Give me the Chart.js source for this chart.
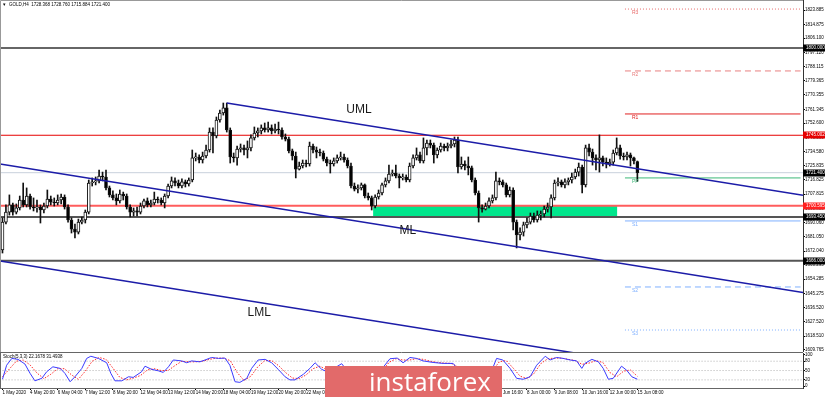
<!DOCTYPE html>
<html>
<head>
<meta charset="utf-8">
<title>GOLD H4</title>
<script src="https://cdn.jsdelivr.net/npm/chart.js@4.4.1/dist/chart.umd.min.js"></script>
<style>
  body { margin: 0; background: #fff; }
  #wrap { position: relative; width: 825px; height: 397px; overflow: hidden; }
  #main-canvas { position: absolute; left: 0; top: 0; }
  #stoch-canvas { position: absolute; left: 0; top: 352px; }
  #logo {
    position: absolute; left: 325px; top: 366px; width: 133px; height: 31px;
    padding-left: 44px; background: #e26a6a; color: #fff;
    font: 26px "Open Sans", "Liberation Sans", sans-serif; line-height: 30px;
  }
</style>
</head>
<body>
<div id="wrap">
  <canvas id="main-canvas" width="825" height="352"></canvas>
  <canvas id="stoch-canvas" width="825" height="45"></canvas>
  <div id="logo">instaforex</div>
</div>
<script>
// H4 candles, 1 May 2020 .. 15 Jun 2020 08:00
const opens = [1672.7,1690.3,1696.6,1701.1,1696.6,1699.2,1704.2,1701.1,1706.7,1699.8,1699.2,1699.8,1697.9,1700.4,1704.8,1702.9,1702.3,1704.2,1706.1,1699.8,
  1691.6,1685.9,1684.0,1690.3,1691.6,1696.6,1714.9,1715.6,1716.2,1719.3,1718.7,1711.8,1707.4,1705.5,1703.6,1708.0,1706.7,1699.8,1696.6,1697.3,
  1696.6,1700.4,1703.6,1701.1,1702.3,1704.8,1704.2,1702.3,1706.7,1713.0,1716.2,1714.9,1713.0,1715.6,1714.3,1716.8,1730.7,1731.3,1729.4,1731.9,
  1735.7,1747.0,1744.5,1754.6,1759.0,1762.2,1748.3,1731.3,1730.7,1736.3,1737.0,1735.7,1737.0,1743.3,1746.4,1747.7,1749.6,1748.3,1749.6,1747.7,
  1748.9,1748.3,1743.9,1742.6,1735.1,1731.9,1723.7,1725.6,1727.5,1726.9,1738.2,1735.7,1734.4,1733.8,1730.0,1727.5,1726.9,1728.8,1730.7,1731.3,
  1729.4,1725.6,1713.0,1711.1,1711.8,1713.7,1706.7,1705.5,1700.4,1706.1,1708.6,1713.7,1716.2,1720.6,1721.2,1719.3,1718.1,1718.7,1716.8,1725.6,
  1730.7,1732.6,1728.8,1737.0,1740.1,1738.8,1732.6,1735.7,1738.2,1737.0,1738.2,1739.5,1742.0,1725.0,1726.9,1725.6,1724.4,1716.8,1708.6,1699.2,
  1698.5,1700.4,1703.6,1705.5,1716.2,1715.6,1713.7,1707.4,1710.5,1690.3,1682.2,1684.0,1688.5,1690.3,1694.1,1691.6,1694.7,1695.4,1698.5,1699.8,
  1705.5,1714.9,1715.6,1713.7,1715.6,1716.8,1718.7,1721.8,1725.0,1713.7,1737.0,1734.4,1730.7,1729.4,1730.7,1728.1,1726.9,1728.1,1733.8,1737.0,
  1731.9,1731.3,1732.6,1730.7,1728.368];
const highs = [1692.9,1701.1,1707.4,1702.3,1701.7,1706.7,1714.9,1711.8,1708.0,1705.5,1704.2,1701.1,1702.3,1710.5,1706.7,1705.5,1707.4,1708.0,1707.4,1701.1,
  1692.9,1689.1,1692.2,1693.5,1697.9,1716.8,1718.1,1718.7,1723.1,1721.8,1723.1,1713.0,1709.9,1708.0,1710.5,1709.2,1708.0,1701.1,1699.2,1699.8,
  1702.3,1704.8,1705.5,1704.2,1709.2,1706.1,1705.5,1708.0,1714.3,1718.7,1718.1,1716.8,1717.5,1716.8,1718.1,1735.7,1733.8,1732.6,1734.4,1738.8,
  1749.6,1749.6,1756.5,1760.9,1765.3,1765.3,1749.6,1733.8,1738.2,1739.5,1738.8,1741.4,1745.2,1750.2,1749.6,1751.5,1752.7,1753.3,1751.5,1752.1,
  1753.3,1749.6,1745.8,1743.9,1736.3,1734.4,1728.1,1729.4,1729.4,1740.7,1739.5,1737.6,1736.3,1735.1,1731.3,1729.4,1730.7,1732.6,1734.4,1733.2,
  1730.7,1727.5,1714.9,1713.7,1714.9,1714.3,1708.6,1706.7,1707.4,1710.5,1714.9,1718.1,1726.2,1723.1,1726.2,1720.6,1720.6,1720.0,1727.5,1732.6,
  1737.0,1734.4,1743.3,1742.0,1742.0,1740.1,1737.0,1740.1,1739.5,1740.1,1742.0,1743.9,1743.9,1731.3,1728.8,1731.3,1725.6,1718.1,1709.9,1701.1,
  1702.3,1705.5,1707.4,1721.8,1718.1,1716.8,1714.9,1712.4,1711.8,1691.6,1686.6,1690.3,1692.9,1696.0,1696.0,1697.3,1697.3,1700.4,1702.3,1707.4,
  1716.8,1718.1,1716.8,1717.5,1718.1,1721.2,1723.7,1727.5,1726.2,1738.8,1739.5,1736.3,1732.6,1745.2,1731.9,1730.7,1730.0,1735.7,1743.3,1738.8,
  1733.8,1734.4,1733.8,1731.3,1728.760];
const lows = [1670.8,1689.1,1694.7,1694.7,1695.4,1697.9,1699.8,1699.8,1698.5,1697.3,1696.6,1689.7,1696.0,1699.2,1701.1,1700.4,1701.1,1701.7,1698.5,1690.3,
  1683.4,1680.3,1682.8,1689.1,1689.7,1695.4,1713.0,1713.7,1714.9,1716.2,1710.5,1706.1,1704.2,1701.1,1702.3,1704.2,1698.5,1693.5,1694.1,1694.1,
  1695.4,1699.2,1699.8,1699.8,1701.1,1702.3,1701.1,1699.2,1705.5,1711.8,1713.0,1711.8,1711.8,1712.4,1713.0,1715.6,1728.8,1727.5,1727.5,1730.7,
  1734.4,1733.8,1743.3,1753.3,1757.7,1747.0,1727.5,1728.1,1726.2,1734.4,1732.6,1730.7,1735.1,1742.0,1743.9,1745.8,1747.0,1747.0,1745.8,1746.4,
  1745.8,1742.6,1741.4,1733.8,1729.4,1718.1,1723.1,1724.4,1725.0,1725.6,1733.8,1730.7,1731.9,1728.8,1725.6,1721.2,1725.6,1727.5,1729.4,1728.1,
  1724.4,1711.8,1709.9,1708.6,1710.5,1705.5,1704.2,1697.9,1699.2,1704.8,1707.4,1712.4,1714.9,1719.3,1718.1,1711.8,1716.8,1715.6,1715.6,1724.4,
  1729.4,1727.5,1727.5,1732.6,1737.0,1727.5,1730.7,1734.4,1735.1,1735.1,1737.0,1737.6,1721.2,1723.7,1723.1,1720.0,1715.6,1707.4,1690.3,1696.6,
  1697.9,1699.2,1702.3,1704.2,1713.7,1712.4,1706.1,1706.1,1685.3,1674.0,1679.0,1681.5,1686.6,1689.1,1690.3,1690.3,1691.6,1693.5,1696.6,1692.9,
  1704.2,1713.0,1712.4,1711.8,1713.7,1714.9,1717.5,1719.3,1708.6,1712.4,1731.9,1726.2,1723.1,1721.8,1725.6,1724.4,1725.6,1726.2,1732.6,1730.0,
  1729.4,1729.4,1725.6,1726.9,1715.884];
const closes = [1690.3,1696.6,1701.1,1696.6,1699.2,1704.2,1701.1,1706.7,1699.8,1699.2,1699.8,1697.9,1700.4,1704.8,1702.9,1702.3,1704.2,1706.1,1699.8,1691.6,
  1685.9,1684.0,1690.3,1691.6,1696.6,1714.9,1715.6,1716.2,1719.3,1718.7,1711.8,1707.4,1705.5,1703.6,1708.0,1706.7,1699.8,1696.6,1697.3,1696.6,
  1700.4,1703.6,1701.1,1702.3,1704.8,1704.2,1702.3,1706.7,1713.0,1716.2,1714.9,1713.0,1715.6,1714.3,1716.8,1730.7,1731.3,1729.4,1731.9,1735.7,
  1747.0,1744.5,1754.6,1759.0,1762.2,1748.3,1731.3,1730.7,1736.3,1737.0,1735.7,1737.0,1743.3,1746.4,1747.7,1749.6,1748.3,1749.6,1747.7,1748.9,
  1748.3,1743.9,1742.6,1735.1,1731.9,1723.7,1725.6,1727.5,1726.9,1738.2,1735.7,1734.4,1733.8,1730.0,1727.5,1726.9,1728.8,1730.7,1731.3,1729.4,
  1725.6,1713.0,1711.1,1711.8,1713.7,1706.7,1705.5,1700.4,1706.1,1708.6,1713.7,1716.2,1720.6,1721.2,1719.3,1718.1,1718.7,1716.8,1725.6,1730.7,
  1732.6,1728.8,1737.0,1740.1,1738.8,1732.6,1735.7,1738.2,1737.0,1738.2,1739.5,1742.0,1725.0,1726.9,1725.6,1724.4,1716.8,1708.6,1699.2,1698.5,
  1700.4,1703.6,1705.5,1716.2,1715.6,1713.7,1707.4,1710.5,1690.3,1682.2,1684.0,1688.5,1690.3,1694.1,1691.6,1694.7,1695.4,1698.5,1699.8,1705.5,
  1714.9,1715.6,1713.7,1715.6,1716.8,1718.7,1721.8,1725.0,1713.7,1737.0,1734.4,1730.7,1729.4,1730.7,1728.1,1726.9,1728.1,1733.8,1737.0,1731.9,
  1731.3,1732.6,1730.7,1728.8,1721.400];

// one time label every 8 bars
const timeLabels = ["1 May 2020","4 May 20:00","6 May 04:00","7 May 12:00","8 May 20:00","12 May 04:00","13 May 12:00","14 May 20:00",
  "18 May 04:00","19 May 12:00","20 May 20:00","22 May 04:00","25 May 16:00","27 May 00:00","28 May 08:00","29 May 16:00",
  "2 Jun 00:00","3 Jun 08:00","4 Jun 16:00","8 Jun 00:00","9 Jun 08:00","10 Jun 16:00","12 Jun 00:00","15 Jun 08:00"];
const barsPerLabel = 8;

const priceTicks = [1823.885,1814.875,1806.100,1797.120,1788.115,1779.365,1770.355,1761.345,1752.600,1743.590,1734.580,1725.835,
  1716.825,1707.815,1698.805,1690.060,1681.050,1672.040,1663.295,1654.285,1645.275,1636.520,1627.520,1618.510,1609.765];
const stochTicks = [0, 20, 50, 80, 100];

// full width levels and their axis boxes
const levelPrices = [1800.000, 1745.002, 1721.400, 1700.595, 1693.450, 1666.000];
const pivotNames = ["R3", "R2", "R1", "PP", "S1", "S2", "S3"];
const pivotPrices = [1824.5, 1785.5, 1758.4, 1718.1, 1691.0, 1649.4, 1622.3];
const pivotFrom = 180.4, pivotTo = 231.3;

// channel: [bar index, price] end points
const umlLine = [[65, 1765.3], [232, 1707.2]];
const mlLine = [[-0.7, 1726.9], [232, 1645.9]];
const lmlLine = [[-0.7, 1665.8], [232, 1584.8]];

// demand zone
const zoneFrom = 107.4, zoneTo = 178.2, zoneTop = 1700.595, zoneBottom = 1693.450;

// stochastic (5,3,3)
const stochIdx = [0,1.2,2.7,4.5,6.5,8,9.4,11.4,12.8,14.6,16.7,18.1,19.6,21,23,24.4,25.6,27.8,30.2,31.4,32.6,34.6,36.5,37.9,40.3,41.3,43.2,45.2,
  46.6,48.1,49.5,51.9,53.4,54.8,57.2,58.7,60.6,62.6,64.5,65.9,67.4,68.8,70.8,72.2,74.1,76.1,78,79.9,81.9,83.3,84.8,87.2,89.1,90.6,92.5,94.3,
  98.3,101.3,104.2,107.1,110.3,112.3,114.4,116.1,118.1,120,121.9,124.8,127.7,130.6,132.6,135.5,138.4,140.7,143.2,145,147.1,149,150.9,152.9,
  154.8,157.3,158.7,160.6,162.5,164.5,166.4,167.9,168.8,170.8,172.7,174.1,175.6,177,179.4,180.9,182.4,184];
const stochMain = [22,67,89,86,71,41,17,25,46,62,57,41,14,30,57,89,96,89,75,41,17,17,30,28,46,64,54,49,
  44,62,84,81,75,81,78,84,92,89,90,67,14,12,25,57,84,86,75,54,30,20,20,38,57,75,54,45,
  72,30,15,8,60,88,90,75,92,89,81,76,73,73,45,25,8,20,89,84,57,25,22,30,
  67,96,84,92,89,84,81,57,73,86,78,57,22,25,64,51,30,22.1678];
const signalIdx = [0,2,4,6,8,10,12,14,16,18,20,22,24,26,28,30,32,34,36,38,40,42,44,46,48,50,52,54,56,58,60,62,64,66,68,70,72,74,76,78,80,
  82,84,86,88,90,92,94,96,98,100,102,104,106,108,110,112,114,116,118,120,122,124,126,128,130,132,134,136,138,140,142,144,146,148,150,
  152,154,156,158,160,162,164,166,168,170,172,174,176,178,180,182,184];
const stochSignal = [30,55,80,84,68,42,24,38,56,56,36,22,48,80,92,86,58,28,20,26,34,52,56,50,50,66,80,78,78,80,86,90,90,82,44,18,32,62,82,82,66,
  44,26,24,36,56,64,52,50,62,52,28,16,10,22,48,76,88,84,84,88,86,80,76,74,73,62,40,22,14,14,50,78,82,58,32,
  24,40,72,88,90,90,86,82,70,74,82,76,44,30,48,52,31.4938];
const stochLevels = [20, 50, 80];

const xMin = -0.72, xMax = 232;
const fontFamily = "'Liberation Sans', Arial, sans-serif";
const axisFont = { family: fontFamily, size: 4.5 };
const last = closes.length - 1;

// keep the plot area flush with the canvas edges
const noLabelPadding = (s) => { s.paddingTop = 0; s.paddingBottom = 0; s.paddingLeft = 0; s.paddingRight = 0; };

const hline = (price, from, to, color, width, dash) => ({
  type: "line",
  data: [{ x: from, y: price }, { x: to, y: price }],
  borderColor: color, borderWidth: width, borderDash: dash || [],
  pointRadius: 0, order: 5,
});
const seg = (pts, color, width) => ({
  type: "line",
  data: pts.map(p => ({ x: p[0], y: p[1] })),
  borderColor: color, borderWidth: width, pointRadius: 0, order: 0,
});

const levelStyle = [["#333", 1.5], ["#e60000", 1.2], ["#c8d0dc", 1], ["#ff5c5c", 2], ["#555", 2], ["#555", 2]];
const boxColor = ["#000", "#e60000", "#000", "#ff2020", "#000", "#000"];
const pivotStyle = [["#e86a6a", [1, 2]], ["#e88080", [6, 4]], ["#e02020", []], ["#3cb878", []],
                    ["#7fb0ff", []], ["#7fb0ff", [6, 4]], ["#7fb0ff", [1, 2]]];

const datasets = [
  seg(umlLine, "#1c1ca8", 1.5),
  seg(mlLine, "#1c1ca8", 1.5),
  seg(lmlLine, "#1c1ca8", 1.5),
  {
    type: "bar",
    data: opens.map((o, i) => ({ x: i, y: [o, closes[i]] })),
    backgroundColor: opens.map((o, i) => (closes[i] >= o ? "#fff" : "#000")),
    borderColor: "#111", borderWidth: 1, borderSkipped: false,
    barThickness: 3, minBarLength: 1, grouped: false, order: 1,
  },
  {
    type: "bar",
    data: lows.map((l, i) => ({ x: i, y: [l, highs[i]] })),
    backgroundColor: "#111", borderWidth: 0,
    barThickness: 1, grouped: false, order: 2,
  },
];
levelPrices.forEach((p, k) => datasets.push(hline(p, xMin - 1, xMax + 1, levelStyle[k][0], levelStyle[k][1])));
pivotPrices.forEach((p, k) => datasets.push(hline(p, pivotFrom, pivotTo, pivotStyle[k][0], 1, pivotStyle[k][1])));
datasets.push({
  type: "line",
  data: [{ x: zoneFrom, y: zoneTop }, { x: zoneTo, y: zoneTop }],
  borderWidth: 0, pointRadius: 0, fill: "+1", backgroundColor: "#00e68c", order: 8,
});
datasets.push({
  type: "line",
  data: [{ x: zoneFrom, y: zoneBottom }, { x: zoneTo, y: zoneBottom }],
  borderWidth: 0, pointRadius: 0, order: 9,
});

const mainOverlay = {
  id: "mainOverlay",
  afterDatasetsDraw(chart) {
    const { ctx, scales: { x, y } } = chart;
    ctx.save();
    ctx.font = `12px ${fontFamily}`;
    ctx.fillStyle = "#1a1a1a";
    ctx.textAlign = "center";
    ctx.textBaseline = "middle";
    ctx.fillText("UML", x.getPixelForValue(103.3), y.getPixelForValue(1760.9));
    ctx.fillText("ML", x.getPixelForValue(117.5), y.getPixelForValue(1684.7));
    ctx.fillText("LML", x.getPixelForValue(74.4), y.getPixelForValue(1633.0));
    ctx.font = `5px ${fontFamily}`;
    ctx.textAlign = "left";
    pivotNames.forEach((n, k) => {
      ctx.fillStyle = pivotStyle[k][0];
      ctx.fillText(n, x.getPixelForValue(pivotFrom) + 7, y.getPixelForValue(pivotPrices[k]) + 4);
    });
    ctx.restore();
  },
  afterDraw(chart) {
    const { ctx, chartArea, scales: { y } } = chart;
    ctx.save();
    ctx.strokeStyle = "#999";
    ctx.lineWidth = 1;
    ctx.beginPath();
    ctx.moveTo(0.5, chartArea.bottom);
    ctx.lineTo(0.5, 0.5);
    ctx.lineTo(chartArea.right, 0.5);
    ctx.stroke();
    ctx.font = `4.5px ${fontFamily}`;
    ctx.textBaseline = "middle";
    levelPrices.forEach((p, k) => {
      const py = Math.round(y.getPixelForValue(p));
      ctx.fillStyle = boxColor[k];
      ctx.fillRect(chartArea.right, py - 3.5, 22, 7);
      ctx.fillStyle = "#fff";
      ctx.fillText(p.toFixed(3), chartArea.right + 3, py);
    });
    ctx.fillStyle = "#000";
    ctx.fillText("\u25BE", 3, 5);
    ctx.fillText(`GOLD,H4  ${opens[last].toFixed(3)} ${highs[last].toFixed(3)} ${lows[last].toFixed(3)} ${closes[last].toFixed(3)}`, 9, 5);
    ctx.restore();
  },
};

new Chart(document.getElementById("main-canvas"), {
  type: "bar",
  data: { datasets },
  options: {
    responsive: false, animation: false, devicePixelRatio: 1,
    layout: { padding: 0 },
    plugins: { legend: { display: false }, tooltip: { enabled: false } },
    scales: {
      x: { type: "linear", min: xMin, max: xMax, offset: false, display: false },
      y: {
        position: "right", min: 1608.44, max: 1830.2, beginAtZero: false,
        afterBuildTicks: (s) => { s.ticks = priceTicks.map(v => ({ value: v })); },
        afterFit: (s) => { s.width = 22; noLabelPadding(s); },
        ticks: { font: axisFont, color: "#000", padding: 0, callback: (v) => v.toFixed(3) },
        grid: { drawOnChartArea: false, drawTicks: true, tickLength: 2, color: "#000" },
        border: { display: true, color: "#333" },
      },
    },
  },
  plugins: [mainOverlay],
});

const stochDatasets = [
  {
    data: stochIdx.map((v, k) => ({ x: v, y: stochMain[k] })),
    borderColor: "#3a3aff", borderWidth: 1, pointRadius: 0, order: 0,
  },
  {
    data: signalIdx.map((v, k) => ({ x: v, y: stochSignal[k] })),
    borderColor: "#ff2a2a", borderWidth: 1, borderDash: [1.5, 1.5], pointRadius: 0, order: 1,
  },
];
stochLevels.forEach(v => stochDatasets.push({
  data: [{ x: xMin - 1, y: v }, { x: xMax + 1, y: v }],
  borderColor: "#b0b0b0", borderWidth: 1, borderDash: [1, 2], pointRadius: 0, order: 2,
}));

const stochOverlay = {
  id: "stochOverlay",
  afterDraw(chart) {
    const { ctx, chartArea } = chart;
    ctx.save();
    ctx.strokeStyle = "#666";
    ctx.beginPath();
    ctx.moveTo(0, 0.5);
    ctx.lineTo(chartArea.right, 0.5);
    ctx.moveTo(0.5, 0);
    ctx.lineTo(0.5, chartArea.bottom);
    ctx.stroke();
    ctx.fillStyle = "#000";
    ctx.font = `4.5px ${fontFamily}`;
    ctx.textBaseline = "middle";
    ctx.fillText(`Stoch(5,3,3) ${stochMain[stochMain.length - 1]} ${stochSignal[stochSignal.length - 1]}`, 3, 4.5);
    ctx.restore();
  },
};

new Chart(document.getElementById("stoch-canvas"), {
  type: "line",
  data: { datasets: stochDatasets },
  options: {
    responsive: false, animation: false, devicePixelRatio: 1,
    layout: { padding: { top: 1 } },
    plugins: { legend: { display: false }, tooltip: { enabled: false } },
    scales: {
      x: {
        type: "linear", min: xMin, max: xMax, offset: false,
        afterBuildTicks: (s) => { s.ticks = timeLabels.map((_, k) => ({ value: k * barsPerLabel })); },
        afterFit: (s) => { s.height = 9; noLabelPadding(s); },
        ticks: {
          font: axisFont, color: "#000", padding: 0, align: "start",
          autoSkip: false, maxRotation: 0, callback: (v, k) => timeLabels[k],
        },
        grid: { drawOnChartArea: false, drawTicks: true, tickLength: 2, color: "#000" },
        border: { display: true, color: "#666" },
      },
      y: {
        position: "right", min: -6.1, max: 106.4,
        afterBuildTicks: (s) => { s.ticks = stochTicks.map(v => ({ value: v })); },
        afterFit: (s) => { s.width = 22; noLabelPadding(s); },
        ticks: { font: axisFont, color: "#000", padding: 0 },
        grid: { drawOnChartArea: false, drawTicks: true, tickLength: 2, color: "#000" },
        border: { display: true, color: "#333" },
      },
    },
  },
  plugins: [stochOverlay],
});
</script>
</body>
</html>
